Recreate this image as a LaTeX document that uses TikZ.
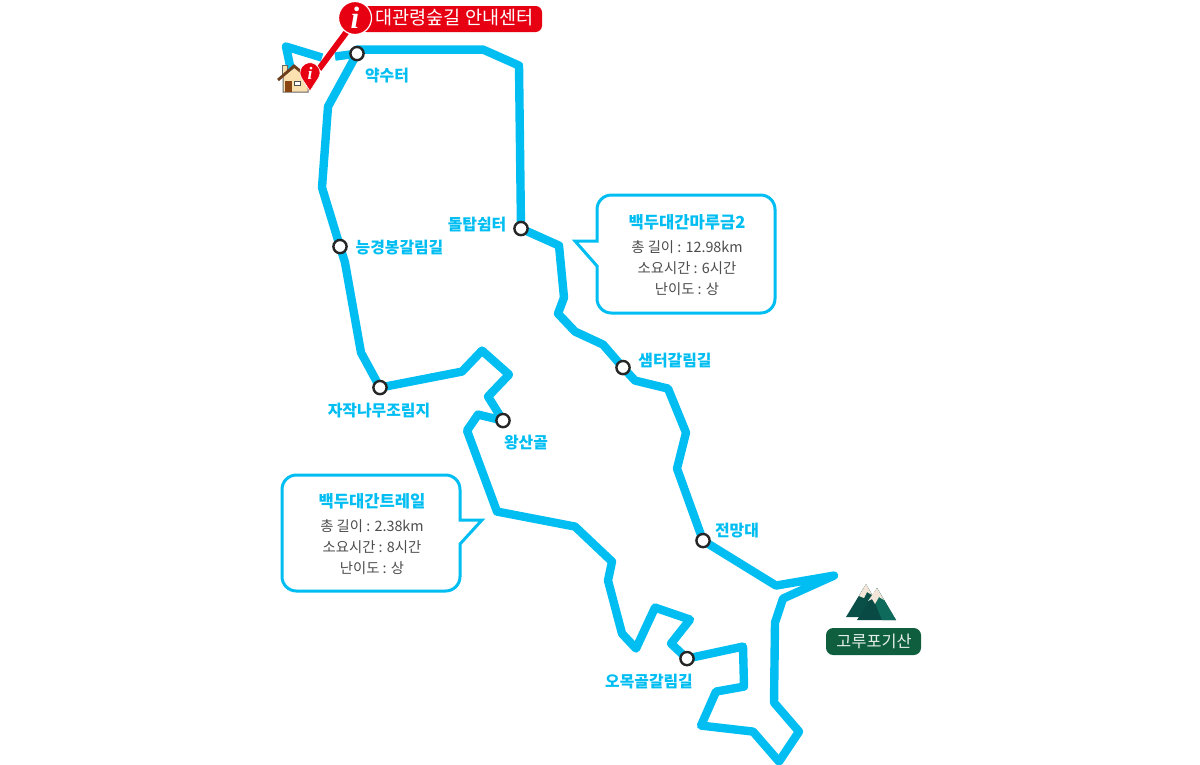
\documentclass[tikz,border=0pt]{standalone}
\usepackage{fontspec}
\usetikzlibrary{calc}
\newfontfamily\krfont{Noto Sans CJK KR}
\newfontfamily\pinfont{Liberation Serif}
\definecolor{trailblue}{HTML}{00BDF2}
\definecolor{signred}{HTML}{E60012}
\definecolor{infogray}{HTML}{4D4D4D}
\definecolor{peakdark}{HTML}{0B4F49}
\definecolor{peakmid}{HTML}{094A44}
\definecolor{peaklight}{HTML}{0E6A5A}
\definecolor{peakbox}{HTML}{0F5F3E}
\definecolor{peaksnow}{HTML}{F3E6D8}
\definecolor{housewall}{HTML}{FBE0B0}
\definecolor{houseroof}{HTML}{6B3F1D}
\definecolor{housedoor}{HTML}{8A4512}
\tikzset{
	trail/.style={draw=trailblue, line width=2.1mm, line join=round},
	stop/.style={circle, draw=black!85, fill=white, line width=0.6mm, minimum size=3.3mm, inner sep=0pt},
	stoplabel/.style={text=trailblue, font=\krfont\bfseries\fontsize{11.3}{13}\selectfont, inner sep=0pt},
	infobox/.style={draw=trailblue, fill=white, line width=0.75mm, rounded corners=3.6mm},
	infotitle/.style={text=trailblue, font=\krfont\bfseries\fontsize{11.8}{14}\selectfont, inner sep=0pt},
	infoline/.style={text=infogray, font=\krfont\fontsize{10.2}{12}\selectfont, inner sep=0pt},
	pinmark/.style={text=white, font=\pinfont\bfseries\itshape, inner sep=0pt}
}
\begin{document}
\begin{tikzpicture}[x=0.025cm,y=-0.025cm]
	\useasboundingbox (0,0) rectangle (1200,764);

	\begin{scope}[yshift=-0.4pt]
	\coordinate (yaksu) at (357,53);
	\coordinate (neung) at (340,246);
	\coordinate (jajak) at (380,387);
	\coordinate (wangsan) at (503,420);
	\coordinate (omok) at (687,658);
	\coordinate (jeonmang) at (703,540);
	\coordinate (saemteo) at (623,367);
	\coordinate (doltap) at (521,228);

	\draw[trail] (335,56) -- (yaksu) -- (328,106) -- (322,187) -- (neung) -- (345,262) -- (361,352) -- (jajak)
		-- (462,371) -- (482,350) -- (509,374) -- (488,396) -- (wangsan) -- (478,414) -- (467,430)
		-- (497,511) -- (575,526) -- (612,561) -- (608,580) -- (622,633) -- (636,648) -- (655,607)
		-- (690,619) -- (671,643) -- (omok) -- (743,646) -- (744,686) -- (716,691) -- (701,725)
		-- (753,731) -- (779,761) -- (799,731) -- (774,702) -- (775,622) -- (783,598) -- (834,575)
		-- (776,585) -- (jeonmang) -- (677,468) -- (686,432) -- (668,388) -- (635,380) -- (saemteo)
		-- (603,344) -- (575,331) -- (558,313) -- (564,297) -- (559,245) -- (doltap) -- (519,65)
		-- (483,49) -- (357,49) -- (yaksu);
	\draw[trail] (322,57) -- (286,46) -- (291,70);

	\node[stop] (yaksustop) at (yaksu) {};
	\node[stop] (neungstop) at (neung) {};
	\node[stop] (jajakstop) at (jajak) {};
	\node[stop] (wangsanstop) at (wangsan) {};
	\node[stop] (omokstop) at (omok) {};
	\node[stop] (jeonmangstop) at (jeonmang) {};
	\node[stop] (saemteostop) at (saemteo) {};
	\node[stop] (doltapstop) at (doltap) {};
	\end{scope}

	\node[stoplabel] (yaksulabel) at (387,76) {약수터};
	\node[stoplabel] (neunglabel) at (399.5,248) {능경봉갈림길};
	\node[stoplabel] (jajaklabel) at (379,411) {자작나무조림지};
	\node[stoplabel] (wangsanlabel) at (526,443) {왕산골};
	\node[stoplabel] (omoklabel) at (649,682) {오목골갈림길};
	\node[stoplabel] (jeonmanglabel) at (737,531) {전망대};
	\node[stoplabel] (saemteolabel) at (675,361) {샘터갈림길};
	\node[stoplabel] (doltaplabel) at (477,225) {돌탑쉼터};

	% first box
	\draw[infobox] (597,266) -- (597,313) -- (775,313) -- (775,195) -- (597,195)
		[sharp corners] -- (597,241) -- (575,241) -- cycle;
	\node[infotitle] (marutitle) at (687,222) {백두대간마루금2};
	\node[infoline] (marulen) at (687,247) {총 길이 : 12.98km};
	\node[infoline] (marutime) at (687,268) {소요시간 : 6시간};
	\node[infoline] (marulevel) at (687,289) {난이도 : 상};

	% second box
	\draw[infobox] (460,544) -- (460,591) -- (282,591) -- (282,475) -- (460,475)
		[sharp corners] -- (460,520) -- (482,520) -- cycle;
	\node[infotitle] (trailtitle) at (372,501) {백두대간트레일};
	\node[infoline] (traillen) at (372,526) {총 길이 : 2.38km};
	\node[infoline] (trailtime) at (372,547) {소요시간 : 8시간};
	\node[infoline] (traillevel) at (372,568) {난이도 : 상};

	% sign at the top
	\draw[signred, line width=1.5mm] (351,26) -- (319,69);
	\fill[signred, rounded corners=1.6mm] (360,6) rectangle (542,32);
	\draw[fill=signred, draw=white, line width=0.3mm] (355,18) circle (16.5);
	\node[pinmark, font=\pinfont\bfseries\itshape\fontsize{22}{22}\selectfont] (signi) at (355,18) {i};
	\node[text=white, font=\krfont\fontsize{13.2}{15}\selectfont, inner sep=0pt] (signtext) at (454.5,18) {대관령숲길 안내센터};

	% house
	\draw[fill=housewall, draw=black!60, line width=0.25mm] (282,65) rectangle (287,76);
	\draw[fill=housewall, draw=black!60, line width=0.25mm] (283,76) -- (295,67) -- (308,78) -- (308,92) -- (283,92) -- cycle;
	\fill[housedoor] (285,81) rectangle (292,92);
	\draw[fill=white, draw=black!70, line width=0.25mm] (294,81) rectangle (300,85);
	\draw[draw=houseroof, line width=0.7mm] (278,80) -- (294,66) -- (310,79);
	\draw[fill=signred, draw=white, line width=0.15mm] (310,91) -- (301.5,78) arc (148:392:10) -- cycle;
	\node[pinmark, font=\pinfont\bfseries\itshape\fontsize{12.5}{12.5}\selectfont] (housei) at (310,73) {i};

	% mountain
	\fill[peakdark] (846,617) -- (866,584) -- (885,617) -- cycle;
	\fill[peakmid] (857,620) -- (877,588) -- (896,620) -- cycle;
	\fill[peaklight] (877,588) -- (896,620) -- (882,620) -- (872,596) -- cycle;
	\fill[peaksnow] (859,596) -- (866,584) -- (872,595) -- (867,592) -- (864,598) -- cycle;
	\fill[peaksnow] (868,601) -- (877,588) -- (884,600) -- (879,597) -- (875,604) -- (872,599) -- cycle;
	\fill[peakbox, rounded corners=1.8mm] (826,628) rectangle (921,655);
	\node[text=white!90!peakbox, font=\krfont\fontsize{11.6}{13}\selectfont, inner sep=0pt] (peaklabel) at (874,641) {고루포기산};
\end{tikzpicture}
\end{document}
